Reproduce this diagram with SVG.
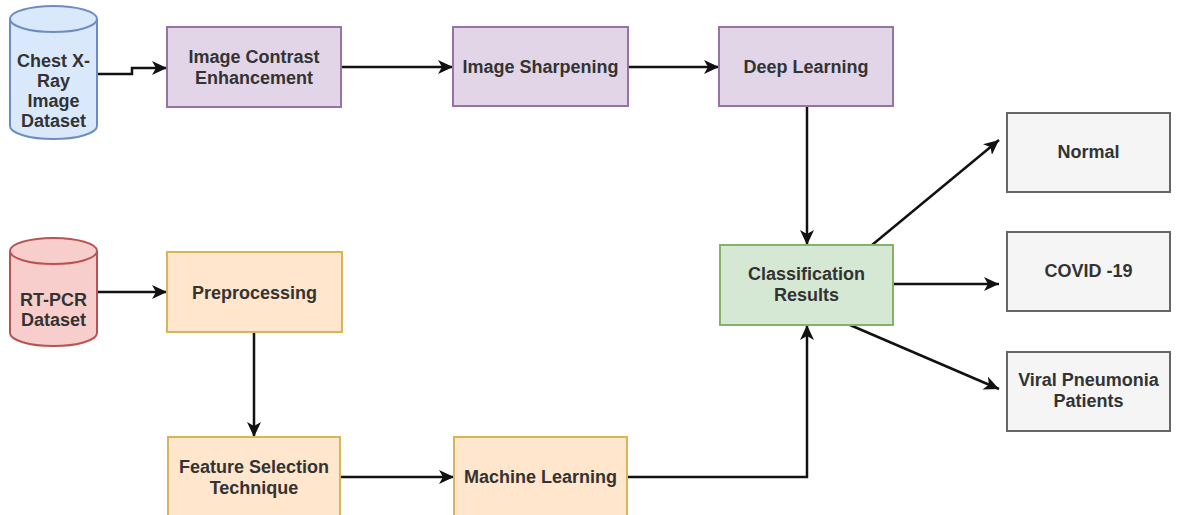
<svg xmlns="http://www.w3.org/2000/svg" width="1177" height="515" viewBox="0 0 1177 515">
<defs>
<marker id="arr" markerUnits="userSpaceOnUse" markerWidth="16" markerHeight="14" refX="15" refY="7" orient="auto">
<path d="M0,0 L15,7 L0,14 L4,7 Z" fill="#111"/>
</marker>
<style>
.t{font-family:"Liberation Sans",Arial,sans-serif;font-weight:bold;font-size:18px;fill:#333;text-anchor:middle}
.c{fill:none;stroke:#111;stroke-width:2.5}
.pur{fill:#e1d5e7;stroke:#9673a6;stroke-width:2}
.org{fill:#ffe6cc;stroke:#d6b656;stroke-width:2}
.grn{fill:#d5e8d4;stroke:#82b366;stroke-width:2}
.gry{fill:#f5f5f5;stroke:#666;stroke-width:2}
</style>
</defs>
<rect width="1177" height="515" fill="#fff"/>
<g id="connectors">
<path class="c" d="M97,74 H132 V68 H167" marker-end="url(#arr)"/>
<path class="c" d="M341,67 H453" marker-end="url(#arr)"/>
<path class="c" d="M628,67 H719" marker-end="url(#arr)"/>
<path class="c" d="M807,106 V245" marker-end="url(#arr)"/>
<path class="c" d="M97,292 H167" marker-end="url(#arr)"/>
<path class="c" d="M254,332 V437" marker-end="url(#arr)"/>
<path class="c" d="M340,477 H454" marker-end="url(#arr)"/>
<path class="c" d="M627,477 H807 V325" marker-end="url(#arr)"/>
<path class="c" d="M872,245 L999,140" marker-end="url(#arr)"/>
<path class="c" d="M893,284 L999,284" marker-end="url(#arr)"/>
<path class="c" d="M850,325 L999,389" marker-end="url(#arr)"/>
</g>
<g id="chest-xray">
<path d="M10,19 A43.5,13 0 0 1 97,19 L97,126 A43.5,13 0 0 1 10,126 Z" fill="#dae8fc" stroke="#6c8ebf" stroke-width="2"/>
<path d="M10,19 A43.5,13 0 0 0 97,19" fill="none" stroke="#6c8ebf" stroke-width="2"/>
<text class="t" x="53.5" y="67">Chest X-</text>
<text class="t" x="53.5" y="87">Ray</text>
<text class="t" x="53.5" y="107">Image</text>
<text class="t" x="53.5" y="127">Dataset</text>
</g>
<g id="contrast">
<rect class="pur" x="167" y="27" width="174" height="80"/>
<text class="t" x="254" y="63">Image Contrast</text>
<text class="t" x="254" y="84">Enhancement</text>
</g>
<g id="sharpening">
<rect class="pur" x="453" y="27" width="175" height="79"/>
<text class="t" x="540.5" y="73">Image Sharpening</text>
</g>
<g id="deep-learning">
<rect class="pur" x="719" y="27" width="174" height="79"/>
<text class="t" x="806" y="73">Deep Learning</text>
</g>
<g id="rtpcr">
<path d="M10,251 A43.5,13 0 0 1 97,251 L97,333 A43.5,13 0 0 1 10,333 Z" fill="#f8cecc" stroke="#b85450" stroke-width="2"/>
<path d="M10,251 A43.5,13 0 0 0 97,251" fill="none" stroke="#b85450" stroke-width="2"/>
<text class="t" x="53.5" y="306">RT-PCR</text>
<text class="t" x="53.5" y="326">Dataset</text>
</g>
<g id="preprocessing">
<rect class="org" x="167" y="252" width="175" height="80"/>
<text class="t" x="254.5" y="299">Preprocessing</text>
</g>
<g id="feature-selection">
<rect class="org" x="168" y="437" width="172" height="90"/>
<text class="t" x="254" y="473">Feature Selection</text>
<text class="t" x="254" y="494">Technique</text>
</g>
<g id="machine-learning">
<rect class="org" x="454" y="437" width="173" height="90"/>
<text class="t" x="540.5" y="483">Machine Learning</text>
</g>
<g id="classification">
<rect class="grn" x="720" y="245" width="173" height="80"/>
<text class="t" x="806.5" y="280">Classification</text>
<text class="t" x="806.5" y="301">Results</text>
</g>
<g id="normal">
<rect class="gry" x="1007" y="113" width="163" height="79"/>
<text class="t" x="1088.5" y="158">Normal</text>
</g>
<g id="covid">
<rect class="gry" x="1007" y="232" width="163" height="79"/>
<text class="t" x="1088.5" y="277">COVID -19</text>
</g>
<g id="viral">
<rect class="gry" x="1007" y="352" width="163" height="79"/>
<text class="t" x="1088.5" y="386">Viral Pneumonia</text>
<text class="t" x="1088.5" y="407">Patients</text>
</g>
</svg>
